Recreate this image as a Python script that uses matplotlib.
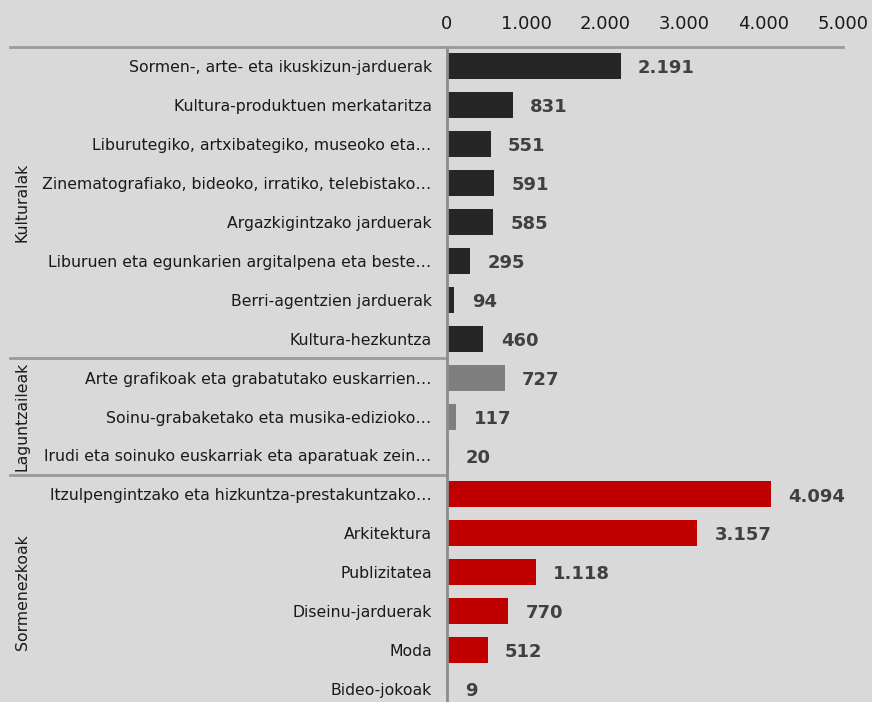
import matplotlib
matplotlib.use("Agg")
import matplotlib.pyplot as plt
import matplotlib.transforms as mtrans

plt.rcParams['font.family'] = ['DejaVu Sans']

categories = [
    "Sormen-, arte- eta ikuskizun-jarduerak",
    "Kultura-produktuen merkataritza",
    "Liburutegiko, artxibategiko, museoko eta…",
    "Zinematografiako, bideoko, irratiko, telebistako…",
    "Argazkigintzako jarduerak",
    "Liburuen eta egunkarien argitalpena eta beste…",
    "Berri-agentzien jarduerak",
    "Kultura-hezkuntza",
    "Arte grafikoak eta grabatutako euskarrien…",
    "Soinu-grabaketako eta musika-edizioko…",
    "Irudi eta soinuko euskarriak eta aparatuak zein…",
    "Itzulpengintzako eta hizkuntza-prestakuntzako…",
    "Arkitektura",
    "Publizitatea",
    "Diseinu-jarduerak",
    "Moda",
    "Bideo-jokoak",
]
values = [2191, 831, 551, 591, 585, 295, 94, 460, 727, 117, 20, 4094, 3157, 1118, 770, 512, 9]
groups = ["Kulturalak"] * 8 + ["Laguntzaileak"] * 3 + ["Sormenezkoak"] * 6
group_names = ["Kulturalak", "Laguntzaileak", "Sormenezkoak"]
group_colors = {"Kulturalak": "#262626", "Laguntzaileak": "#7f7f7f", "Sormenezkoak": "#c00000"}
xticks = [0, 1000, 2000, 3000, 4000, 5000]

def fmt(v):
    return f"{v:,}".replace(",", ".")

W, H = 872, 702
fig = plt.figure(figsize=(W / 100, H / 100), dpi=100)
bg = "#d9d9d9"
fig.patch.set_facecolor(bg)
left, right, top, bottom = 447, 843, 47, 702
ax = fig.add_axes([left / W, 1 - bottom / H, (right - left) / W, (bottom - top) / H])
ax.set_facecolor(bg)

ypos = list(range(len(categories)))
colors = [group_colors[g] for g in groups]
ax.barh(ypos, values, height=0.67, color=colors)
ax.set_xlim(0, 5000)
ax.set_ylim(16.33, -0.49)

for y, v in zip(ypos, values):
    ax.annotate(fmt(v), (v, y), xytext=(12.5, -1.5), textcoords="offset points",
                va="center", ha="left", fontsize=13, fontweight="bold", color="#404040")

ax.set_yticks(ypos)
ax.set_yticklabels(categories, fontsize=11.3, color="#1a1a1a")
ax.tick_params(axis="y", length=0, pad=11)
ax.xaxis.tick_top()
ax.set_xticks(xticks)
ax.set_xticklabels([fmt(t) for t in xticks], fontsize=13, color="#1a1a1a")
ax.tick_params(axis="x", length=0, pad=10)

for s in ["right", "bottom", "top"]:
    ax.spines[s].set_visible(False)
ax.spines["left"].set_color("#8c8c8c")
ax.spines["left"].set_linewidth(2)

line_color = "#9a9a9a"
fig.add_artist(plt.Line2D([10 / W, right / W], [1 - top / H, 1 - top / H], color=line_color, lw=2))

blend = mtrans.blended_transform_factory(fig.transFigure, ax.transData)
starts = {}
for i, g in enumerate(groups):
    starts.setdefault(g, []).append(i)
for gi, g in enumerate(group_names):
    idx = starts[g]
    mid = (idx[0] + idx[-1]) / 2
    ax.text(22 / W, mid, g, transform=blend, rotation=90, va="center", ha="center",
            fontsize=11.3, color="#1a1a1a")
    if gi > 0:
        yb = idx[0] - 0.5
        ax.plot([10 / W, left / W], [yb, yb], color=line_color, lw=2, clip_on=False, transform=blend)

fig.savefig("out.png", dpi=100, facecolor=bg)
